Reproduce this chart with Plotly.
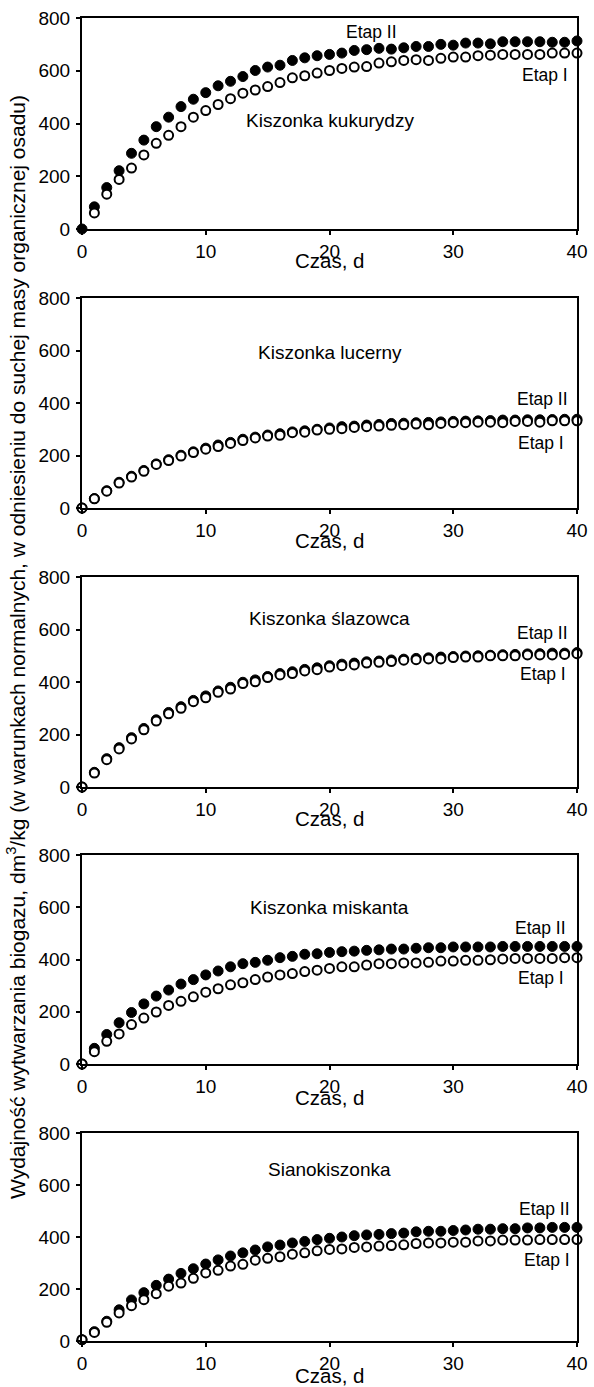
import plotly.graph_objects as go

# ---------------- data ----------------
days = list(range(0, 41))

panel_names = ["Kiszonka kukurydzy", "Kiszonka lucerny", "Kiszonka ślazowca",
               "Kiszonka miskanta", "Sianokiszonka"]

etap2_kukurydza = [0, 84, 157, 221, 287, 337, 388, 424, 464, 492, 517, 543, 560, 578, 601, 614, 621, 639, 649, 657,
                   662, 667, 677, 680, 685, 682, 687, 692, 692, 700, 697, 705, 705, 702, 710, 710, 710, 710, 708, 708, 713]
etap1_kukurydza = [None, 61, 132, 188, 231, 281, 325, 355, 388, 424, 449, 472, 494, 515, 527, 540, 555, 573, 581, 591,
                   601, 609, 614, 616, 629, 634, 639, 642, 639, 647, 652, 652, 657, 659, 662, 662, 662, 662, 667, 667, 667]

etap2_lucerna = [0, 36, 66, 98, 121, 143, 168, 184, 201, 214, 228, 240, 250, 262, 270, 278, 283, 290, 294, 300,
                 305, 310, 312, 316, 318, 322, 323, 325, 326, 328, 330, 331, 332, 333, 335, 335, 336, 336, 337, 338, 338]
etap1_lucerna = [0, 35, 64, 95, 118, 140, 166, 181, 198, 211, 224, 234, 246, 257, 267, 274, 277, 287, 289, 297,
                 300, 302, 307, 310, 312, 315, 317, 320, 317, 322, 325, 325, 327, 327, 325, 330, 330, 327, 332, 332, 332]

etap2_slazowiec = [0, 56, 108, 150, 188, 223, 256, 284, 306, 330, 347, 366, 380, 399, 408, 421, 432, 439, 448, 454,
                   462, 468, 472, 477, 480, 484, 487, 490, 492, 495, 497, 499, 500, 502, 504, 505, 507, 508, 510, 510, 512]
etap1_slazowiec = [0, 53, 104, 145, 183, 218, 251, 279, 300, 325, 340, 361, 373, 394, 401, 417, 427, 432, 442, 447,
                   457, 462, 465, 472, 475, 478, 483, 485, 488, 488, 493, 495, 495, 500, 500, 500, 503, 503, 503, 505, 508]

etap2_miskant = [0, 60, 113, 158, 197, 230, 260, 283, 306, 323, 341, 356, 372, 384, 389, 397, 407, 412, 420, 422,
                 427, 430, 432, 435, 437, 440, 440, 443, 445, 445, 448, 448, 448, 448, 450, 450, 450, 450, 450, 450, 450]
etap1_miskant = [0, 47, 87, 115, 151, 176, 199, 224, 240, 257, 275, 288, 303, 311, 323, 333, 341, 346, 354, 359,
                 366, 372, 372, 379, 384, 384, 387, 387, 389, 394, 394, 397, 397, 399, 402, 404, 404, 404, 404, 407, 407]

etap2_siano = [5, 36, 76, 120, 158, 186, 214, 238, 260, 278, 296, 312, 327, 339, 350, 362, 369, 377, 383, 390,
               395, 400, 405, 408, 410, 413, 415, 420, 422, 422, 425, 427, 430, 430, 432, 432, 435, 435, 437, 437, 437]
etap1_siano = [5, 33, 72, 108, 136, 159, 182, 211, 223, 241, 262, 272, 288, 295, 311, 318, 324, 334, 339, 347,
               352, 354, 360, 362, 365, 367, 370, 375, 377, 377, 380, 380, 385, 385, 388, 388, 388, 390, 390, 390, 390]

etap2_series = [etap2_kukurydza, etap2_lucerna, etap2_slazowiec, etap2_miskant, etap2_siano]
etap1_series = [etap1_kukurydza, etap1_lucerna, etap1_slazowiec, etap1_miskant, etap1_siano]

x_ticks = [0, 10, 20, 30, 40]
y_ticks = [0, 200, 400, 600, 800]

x_axis_title = "Czas, d"
y_axis_title = ("Wydajność wytwarzania biogazu, dm<sup>3</sup>/kg (w warunkach normalnych, "
                "w odniesieniu do suchej masy organicznej osadu)")

# ---------------- layout geometry (page pixels) ----------------
W, H = 594, 1387


def fx(px):
    return px / W


def fy(py):
    return 1 - py / H


X_LEFT, X_RIGHT = 82, 577
panel_px = [(18, 229), (298, 508), (577, 787), (855, 1064), (1133, 1341)]
czas_px = [261, 540, 818, 1097, 1375]
# label positions in data coordinates:
# (name_x, name_y, etap2_center_x, etap2_y, etap1_right_x, etap1_y, etap2_right_x)
label_pos = [
    (20, 410, 23.4, 748, 39.4, 584, None),
    (20, 593, None, 417, 39.1, 248, 39.4),
    (20, 640, None, 588, 39.3, 429, 39.4),
    (20, 599, None, 521, 39.1, 330, 39.3),
    (20, 660, None, 506, 39.6, 310, 39.6),
]

FONT = "Liberation Sans, Arial, sans-serif"
fig = go.Figure()
layout = dict(
    width=W, height=H,
    margin=dict(l=0, r=0, t=0, b=0, pad=0, autoexpand=False),
    paper_bgcolor="white", plot_bgcolor="white",
    showlegend=False,
    font=dict(family=FONT, size=19, color="black"),
)
annotations = []

for i in range(5):
    n = "" if i == 0 else str(i + 1)
    xa, ya = "x" + n, "y" + n
    top, bot = panel_px[i]
    fig.add_trace(go.Scatter(
        x=days, y=etap2_series[i], mode="markers", xaxis=xa, yaxis=ya, cliponaxis=False,
        marker=dict(symbol="circle", size=10, color="black", line=dict(color="black", width=1)),
        name="Etap II", hoverinfo="skip"))
    fig.add_trace(go.Scatter(
        x=days, y=etap1_series[i], mode="markers", xaxis=xa, yaxis=ya, cliponaxis=False,
        marker=dict(symbol="circle", size=9, color="white", line=dict(color="black", width=2)),
        name="Etap I", hoverinfo="skip"))
    axis_common = dict(showline=True, linecolor="black", linewidth=2, mirror=True,
                       showgrid=False, zeroline=False, ticks="outside", ticklen=4,
                       tickwidth=2, tickcolor="black", automargin=False,
                       ticklabeloverflow="allow",
                       tickfont=dict(family=FONT, size=19, color="black"))
    layout["xaxis" + n] = dict(axis_common, domain=[fx(X_LEFT), fx(X_RIGHT)], range=[0, 40],
                               tickvals=x_ticks, anchor=ya, fixedrange=True)
    layout["yaxis" + n] = dict(axis_common, domain=[fy(bot), fy(top)], range=[0, 800],
                               tickvals=y_ticks, anchor=xa, fixedrange=True,
                               ticklabelstandoff=2)
    nx, ny, e2x, e2y, e1r, e1y, e2r = label_pos[i]
    annotations.append(dict(x=nx, y=ny, xref=xa, yref=ya, text=panel_names[i], showarrow=False,
                            xanchor="center", yanchor="middle",
                            font=dict(family=FONT, size=19, color="black")))
    if e2x is not None:
        annotations.append(dict(x=e2x, y=e2y, xref=xa, yref=ya, text="Etap II", showarrow=False,
                                xanchor="center", yanchor="middle",
                                font=dict(family=FONT, size=17.5, color="black")))
    else:
        annotations.append(dict(x=e2r, y=e2y, xref=xa, yref=ya, text="Etap II", showarrow=False,
                                xanchor="right", yanchor="middle",
                                font=dict(family=FONT, size=17.5, color="black")))
    annotations.append(dict(x=e1r, y=e1y, xref=xa, yref=ya, text="Etap I", showarrow=False,
                            xanchor="right", yanchor="middle",
                            font=dict(family=FONT, size=17.5, color="black")))
    annotations.append(dict(x=20, y=fy(czas_px[i]), xref=xa, yref="paper", text=x_axis_title,
                            showarrow=False, xanchor="center", yanchor="middle",
                            font=dict(family=FONT, size=20.5, color="black")))

annotations.append(dict(x=fx(16), y=fy(647), xref="paper", yref="paper", text=y_axis_title,
                        textangle=-90, showarrow=False, xanchor="center", yanchor="middle",
                        font=dict(family=FONT, size=21, color="black")))

layout["annotations"] = annotations
fig.update_layout(**layout)
# remove the page's default 8px body margin so the figure fills the window exactly
fig.write_html("out.html", config={"displayModeBar": False},
               post_script="document.body.style.margin='0px';")
